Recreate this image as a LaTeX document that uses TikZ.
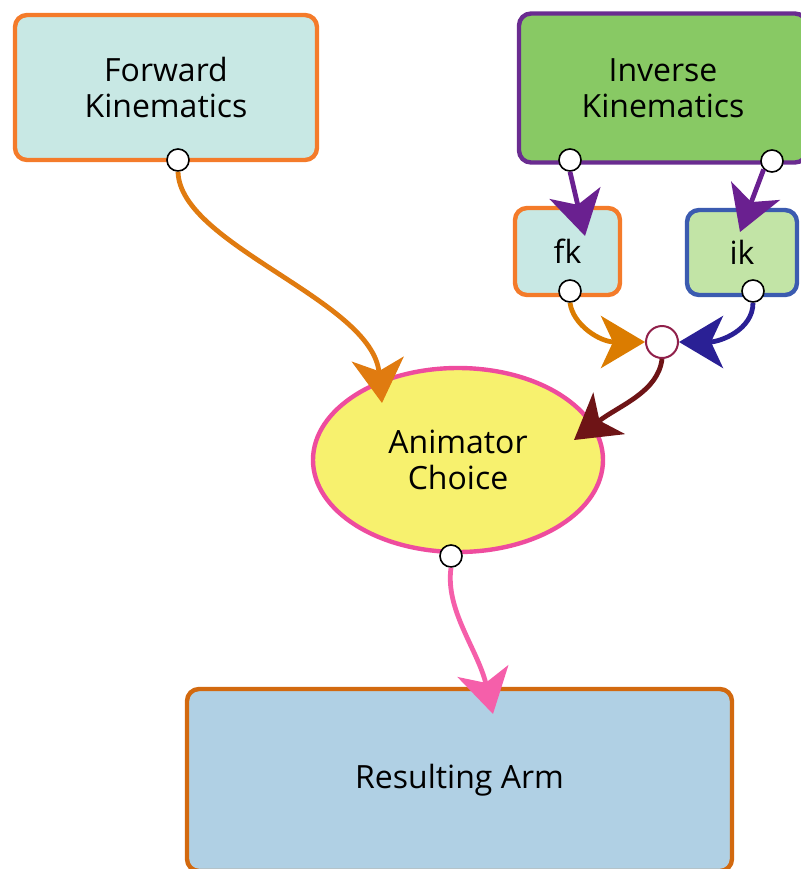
\documentclass[tikz,border=0pt]{standalone}
\usepackage{fontspec}
\setmainfont{Open Sans}
\usetikzlibrary{arrows.meta,shapes.geometric}
\definecolor{fkfill}{HTML}{C8E8E4}
\definecolor{fkline}{HTML}{F47B2A}
\definecolor{ikfill}{HTML}{88C964}
\definecolor{ikline}{HTML}{6A2C90}
\definecolor{smikfill}{HTML}{C2E4A6}
\definecolor{smikline}{HTML}{3B5BB0}
\definecolor{ellfill}{HTML}{F7F16E}
\definecolor{ellline}{HTML}{EE4C9E}
\definecolor{armfill}{HTML}{B0D0E4}
\definecolor{armline}{HTML}{D2690F}
\definecolor{cFK}{HTML}{E07B10}
\definecolor{cPur}{HTML}{6A2090}
\definecolor{cfk}{HTML}{DB7C00}
\definecolor{cik}{HTML}{2A2095}
\definecolor{cJ}{HTML}{6E1416}
\definecolor{Jline}{HTML}{90204A}
\definecolor{cPink}{HTML}{F55FAA}
\tikzset{
  box/.style={draw, rounded corners=6pt, line width=2.2pt, align=center,
    font=\fontsize{16}{18}\selectfont, inner sep=0pt},
  port/.style={circle, draw=black, fill=white, line width=0.8pt,
    minimum size=11pt, inner sep=0pt},
  conn/.style={line width=2.4pt, -{Stealth[length=22pt,width=26pt,inset=6pt]}},
}
\begin{document}
\begin{tikzpicture}[x=0.5pt,y=-0.5pt]
\path[use as bounding box] (0,0) rectangle (801,869);
\clip (0,0) rectangle (801,869);
% boxes
\node[box, draw=fkline, fill=fkfill, minimum width=151pt, minimum height=72.5pt] (FK) at (166,87.5) {Forward\\Kinematics};
\node[box, draw=ikline, fill=ikfill, minimum width=144pt, minimum height=74.5pt] (IK) at (663,88) {Inverse\\Kinematics};
\node[box, draw=fkline, fill=fkfill, minimum width=52.5pt, minimum height=43.5pt] (fk) at (567.5,251.5) {fk};
\node[box, draw=smikline, fill=smikfill, minimum width=55pt, minimum height=42.5pt] (ik) at (742,252.5) {ik};
\node[ellipse, draw=ellline, fill=ellfill, line width=2.2pt, minimum width=145pt, minimum height=92pt,
  align=center, font=\fontsize{16}{18}\selectfont, inner sep=0pt] (AC) at (458,460) {Animator\\Choice};
\node[box, draw=armline, fill=armfill, minimum width=272.5pt, minimum height=91pt] (RA) at (459.5,780) {Resulting Arm};
% ports
\node[port] (pFK) at (178,160) {};
\node[port] (pIK1) at (570,160) {};
\node[port] (pIK2) at (772,161) {};
\node[port] (pfk) at (570,291) {};
\node[port] (pik) at (753,291) {};
\node[port] (pAC) at (451,556) {};
\node[circle, draw=Jline, fill=white, line width=1pt, minimum size=16pt, inner sep=0pt] (J) at (662,342) {};
% arrow tip targets
\coordinate (tAC1) at (382,403);
\coordinate (tAC2) at (574,440);
\coordinate (tfk) at (585,236);
\coordinate (tik) at (740,232);
\coordinate (tRA) at (493,714);
% connectors
\draw[conn, draw=cFK] (pFK.south) .. controls (180,245) and (372,300) .. (tAC1);
\draw[conn, draw=cPur] (pIK1.south) -- (tfk);
\draw[conn, draw=cPur] (pIK2.south west) -- (tik);
\draw[conn, draw=cfk] (pfk.south) .. controls (573,325) and (600,342) .. (J.west);
\draw[conn, draw=cik] (pik.south) .. controls (753,330) and (720,342) .. (J.east);
\draw[conn, draw=cJ] (J.south) .. controls (658,392) and (620,405) .. (tAC2);
\draw[conn, draw=cPink] (pAC.south) .. controls (445,610) and (478,650) .. (tRA);
\end{tikzpicture}
\end{document}
